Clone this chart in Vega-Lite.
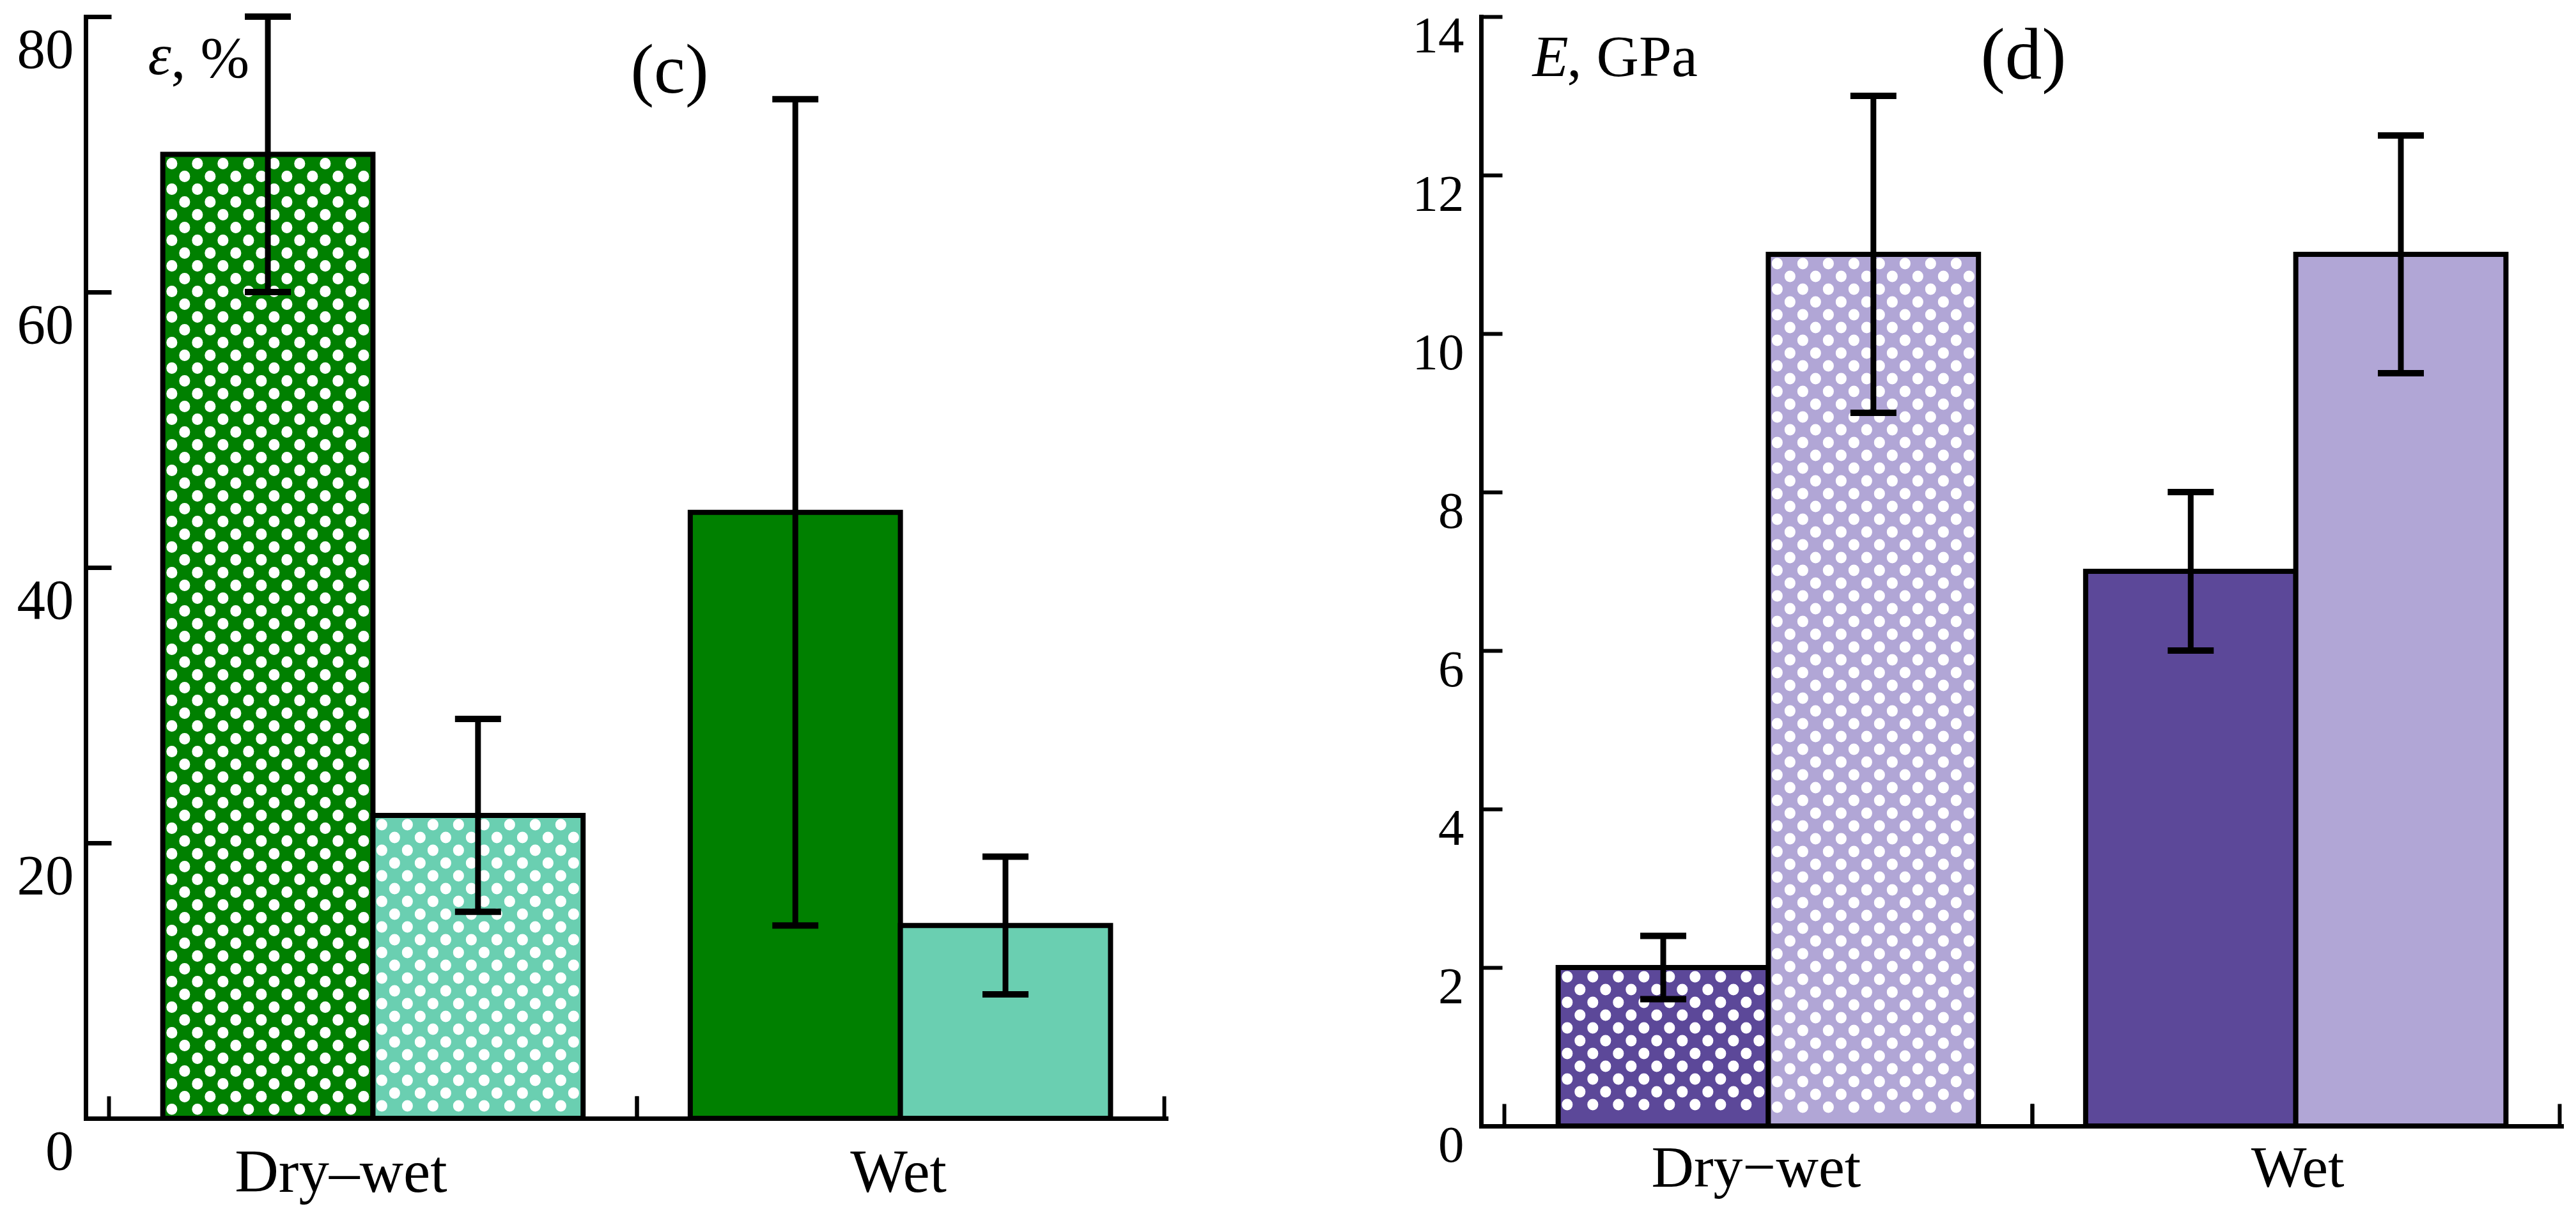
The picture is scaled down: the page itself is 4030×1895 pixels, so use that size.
{
  "$schema": "https://vega.github.io/schema/vega-lite/v6.json",
  "background": "white",
  "padding": {"left": 26, "top": 16, "right": 10, "bottom": 10},
  "bounds": "flush",
  "spacing": 493,
  "resolve": {"scale": {"fill": "independent"}},
  "datasets": {
    "strain": [
      {"id": "A", "cond": "Dry–wet", "grp": "1", "val": 70, "lo": 60, "hi": 80, "hatch": true},
      {"id": "B", "cond": "Dry–wet", "grp": "2", "val": 22, "lo": 15, "hi": 29, "hatch": true},
      {"id": "C", "cond": "Wet", "grp": "1", "val": 44, "lo": 14, "hi": 74, "hatch": false},
      {"id": "D", "cond": "Wet", "grp": "2", "val": 14, "lo": 9, "hi": 19, "hatch": false}
    ],
    "modulus": [
      {"id": "A", "cond": "Dry−wet", "grp": "1", "val": 2, "lo": 1.6, "hi": 2.4, "hatch": true},
      {"id": "B", "cond": "Dry−wet", "grp": "2", "val": 11, "lo": 9, "hi": 13, "hatch": true},
      {"id": "C", "cond": "Wet", "grp": "1", "val": 7, "lo": 6, "hi": 8, "hatch": false},
      {"id": "D", "cond": "Wet", "grp": "2", "val": 11, "lo": 9.5, "hi": 12.5, "hatch": false}
    ]
  },
  "hconcat": [
    {
      "width": 1690,
      "height": 1724,
      "data": {"name": "strain"},
      "encoding": {
        "x": {"field": "cond", "type": "nominal", "sort": null, "scale": {"paddingInner": 0, "paddingOuter": 0.024, "align": 0.93}, "axis": null},
        "xOffset": {"field": "grp", "type": "nominal", "scale": {"domain": ["1", "2"], "paddingInner": 0, "paddingOuter": 0.255}},
        "y": {"field": "val", "type": "quantitative", "scale": {"domain": [0, 80], "nice": false},
          "axis": {"orient": "left", "values": [0, 20, 40, 60, 80], "domainWidth": 7, "tickSize": -40, "tickWidth": 7, "labelFont": "Liberation Serif", "labelFontSize": 89, "labelPadding": 59, "labelBaseline": "top", "labelOffset": 9, "labelFlush": false, "labelOverlap": false, "title": "ε", "titleFont": "Liberation Serif", "titleFontStyle": "italic", "titleFontSize": 92, "titleAngle": 0, "titleAlign": "left", "titleBaseline": "alphabetic", "titleX": 97, "titleY": 89}}
      },
      "layer": [
        {
          "mark": {"type": "bar", "stroke": "black", "strokeWidth": 8},
          "encoding": {
            "x": {"field": "cond", "type": "nominal", "sort": null, "scale": {"paddingInner": 0, "paddingOuter": 0.024, "align": 0.93},
              "axis": {"orient": "bottom", "bandPosition": 0, "domain": true, "domainWidth": 7, "ticks": true, "tickSize": -35, "tickWidth": 6, "labelAngle": 0, "labelFont": "Liberation Serif", "labelFontSize": 95, "labelLimit": 0, "labelPadding": 74, "labelAlign": "center", "labelBaseline": "top", "labelOffset": {"condition": {"test": "datum.value === 'Dry–wet'", "value": -50}, "value": -3},
                "title": "(c)", "titleFont": "Liberation Serif", "titleFontSize": 110, "titleFontStyle": "normal", "titleAngle": 0, "titleAlign": "center", "titleBaseline": "alphabetic", "titleX": 913, "titleY": -1606}},
            "fill": {"field": "id", "type": "nominal", "scale": {"domain": ["A", "B", "C", "D"], "range": ["#008000", "#6ACFB1", "#008000", "#6ACFB1"]}, "legend": null}
          }
        },
        {"transform": [{"filter": "datum.hatch"}], "mark": {"type": "rule", "color": "white", "opacity": 1, "strokeWidth": 17, "strokeCap": "round", "strokeDash": [1, 39], "strokeDashOffset": 0, "yOffset": 14, "y2Offset": -14}, "encoding": {"xOffset": {"field": "grp", "type": "nominal", "scale": {"domain": ["1", "2"], "range": [-66.25, 590.75], "paddingInner": 0, "paddingOuter": 0}}, "y2": {"datum": 0}}},
        {"transform": [{"filter": "datum.hatch"}], "mark": {"type": "rule", "color": "white", "opacity": 1, "strokeWidth": 17, "strokeCap": "round", "strokeDash": [1, 39], "strokeDashOffset": 20, "yOffset": 14, "y2Offset": -14}, "encoding": {"xOffset": {"field": "grp", "type": "nominal", "scale": {"domain": ["1", "2"], "range": [-46.25, 610.75], "paddingInner": 0, "paddingOuter": 0}}, "y2": {"datum": 0}}},
        {"transform": [{"filter": "datum.hatch"}], "mark": {"type": "rule", "color": "white", "opacity": 1, "strokeWidth": 17, "strokeCap": "round", "strokeDash": [1, 39], "strokeDashOffset": 0, "yOffset": 14, "y2Offset": -14}, "encoding": {"xOffset": {"field": "grp", "type": "nominal", "scale": {"domain": ["1", "2"], "range": [-26.25, 630.75], "paddingInner": 0, "paddingOuter": 0}}, "y2": {"datum": 0}}},
        {"transform": [{"filter": "datum.hatch"}], "mark": {"type": "rule", "color": "white", "opacity": 1, "strokeWidth": 17, "strokeCap": "round", "strokeDash": [1, 39], "strokeDashOffset": 20, "yOffset": 14, "y2Offset": -14}, "encoding": {"xOffset": {"field": "grp", "type": "nominal", "scale": {"domain": ["1", "2"], "range": [-6.25, 650.75], "paddingInner": 0, "paddingOuter": 0}}, "y2": {"datum": 0}}},
        {"transform": [{"filter": "datum.hatch"}], "mark": {"type": "rule", "color": "white", "opacity": 1, "strokeWidth": 17, "strokeCap": "round", "strokeDash": [1, 39], "strokeDashOffset": 0, "yOffset": 14, "y2Offset": -14}, "encoding": {"xOffset": {"field": "grp", "type": "nominal", "scale": {"domain": ["1", "2"], "range": [13.75, 670.75], "paddingInner": 0, "paddingOuter": 0}}, "y2": {"datum": 0}}},
        {"transform": [{"filter": "datum.hatch"}], "mark": {"type": "rule", "color": "white", "opacity": 1, "strokeWidth": 17, "strokeCap": "round", "strokeDash": [1, 39], "strokeDashOffset": 20, "yOffset": 14, "y2Offset": -14}, "encoding": {"xOffset": {"field": "grp", "type": "nominal", "scale": {"domain": ["1", "2"], "range": [33.75, 690.75], "paddingInner": 0, "paddingOuter": 0}}, "y2": {"datum": 0}}},
        {"transform": [{"filter": "datum.hatch"}], "mark": {"type": "rule", "color": "white", "opacity": 1, "strokeWidth": 17, "strokeCap": "round", "strokeDash": [1, 39], "strokeDashOffset": 0, "yOffset": 14, "y2Offset": -14}, "encoding": {"xOffset": {"field": "grp", "type": "nominal", "scale": {"domain": ["1", "2"], "range": [53.75, 710.75], "paddingInner": 0, "paddingOuter": 0}}, "y2": {"datum": 0}}},
        {"transform": [{"filter": "datum.hatch"}], "mark": {"type": "rule", "color": "white", "opacity": 1, "strokeWidth": 17, "strokeCap": "round", "strokeDash": [1, 39], "strokeDashOffset": 20, "yOffset": 14, "y2Offset": -14}, "encoding": {"xOffset": {"field": "grp", "type": "nominal", "scale": {"domain": ["1", "2"], "range": [73.75, 730.75], "paddingInner": 0, "paddingOuter": 0}}, "y2": {"datum": 0}}},
        {"transform": [{"filter": "datum.hatch"}], "mark": {"type": "rule", "color": "white", "opacity": 1, "strokeWidth": 17, "strokeCap": "round", "strokeDash": [1, 39], "strokeDashOffset": 0, "yOffset": 14, "y2Offset": -14}, "encoding": {"xOffset": {"field": "grp", "type": "nominal", "scale": {"domain": ["1", "2"], "range": [93.75, 750.75], "paddingInner": 0, "paddingOuter": 0}}, "y2": {"datum": 0}}},
        {"transform": [{"filter": "datum.hatch"}], "mark": {"type": "rule", "color": "white", "opacity": 1, "strokeWidth": 17, "strokeCap": "round", "strokeDash": [1, 39], "strokeDashOffset": 20, "yOffset": 14, "y2Offset": -14}, "encoding": {"xOffset": {"field": "grp", "type": "nominal", "scale": {"domain": ["1", "2"], "range": [113.75, 770.75], "paddingInner": 0, "paddingOuter": 0}}, "y2": {"datum": 0}}},
        {"transform": [{"filter": "datum.hatch"}], "mark": {"type": "rule", "color": "white", "opacity": 1, "strokeWidth": 17, "strokeCap": "round", "strokeDash": [1, 39], "strokeDashOffset": 0, "yOffset": 14, "y2Offset": -14}, "encoding": {"xOffset": {"field": "grp", "type": "nominal", "scale": {"domain": ["1", "2"], "range": [133.75, 790.75], "paddingInner": 0, "paddingOuter": 0}}, "y2": {"datum": 0}}},
        {"transform": [{"filter": "datum.hatch"}], "mark": {"type": "rule", "color": "white", "opacity": 1, "strokeWidth": 17, "strokeCap": "round", "strokeDash": [1, 39], "strokeDashOffset": 20, "yOffset": 14, "y2Offset": -14}, "encoding": {"xOffset": {"field": "grp", "type": "nominal", "scale": {"domain": ["1", "2"], "range": [153.75, 810.75], "paddingInner": 0, "paddingOuter": 0}}, "y2": {"datum": 0}}},
        {"transform": [{"filter": "datum.hatch"}], "mark": {"type": "rule", "color": "white", "opacity": 1, "strokeWidth": 17, "strokeCap": "round", "strokeDash": [1, 39], "strokeDashOffset": 0, "yOffset": 14, "y2Offset": -14}, "encoding": {"xOffset": {"field": "grp", "type": "nominal", "scale": {"domain": ["1", "2"], "range": [173.75, 830.75], "paddingInner": 0, "paddingOuter": 0}}, "y2": {"datum": 0}}},
        {"transform": [{"filter": "datum.hatch"}], "mark": {"type": "rule", "color": "white", "opacity": 1, "strokeWidth": 17, "strokeCap": "round", "strokeDash": [1, 39], "strokeDashOffset": 20, "yOffset": 14, "y2Offset": -14}, "encoding": {"xOffset": {"field": "grp", "type": "nominal", "scale": {"domain": ["1", "2"], "range": [193.75, 850.75], "paddingInner": 0, "paddingOuter": 0}}, "y2": {"datum": 0}}},
        {"transform": [{"filter": "datum.hatch"}], "mark": {"type": "rule", "color": "white", "opacity": 1, "strokeWidth": 17, "strokeCap": "round", "strokeDash": [1, 39], "strokeDashOffset": 0, "yOffset": 14, "y2Offset": -14}, "encoding": {"xOffset": {"field": "grp", "type": "nominal", "scale": {"domain": ["1", "2"], "range": [213.75, 870.75], "paddingInner": 0, "paddingOuter": 0}}, "y2": {"datum": 0}}},
        {"transform": [{"filter": "datum.hatch"}], "mark": {"type": "rule", "color": "white", "opacity": 1, "strokeWidth": 17, "strokeCap": "round", "strokeDash": [1, 39], "strokeDashOffset": 20, "yOffset": 14, "y2Offset": -14}, "encoding": {"xOffset": {"field": "grp", "type": "nominal", "scale": {"domain": ["1", "2"], "range": [233.75, 890.75], "paddingInner": 0, "paddingOuter": 0}}, "y2": {"datum": 0}}},
        {
          "mark": {"type": "rule", "color": "black", "opacity": 1, "strokeWidth": 9},
          "encoding": {
            "x": {"field": "cond", "type": "nominal", "sort": null, "scale": {"paddingInner": 0, "paddingOuter": 0.024, "align": 0.93},
              "axis": {"orient": "bottom", "bandPosition": 1, "domain": false, "labels": false, "ticks": true, "tickSize": -35, "tickWidth": 6, "title": ", %", "titleFont": "Liberation Serif", "titleFontSize": 92, "titleFontStyle": "normal", "titleAngle": 0, "titleAlign": "left", "titleBaseline": "alphabetic", "titleX": 133, "titleY": -1630}},
            "y": {"field": "lo", "type": "quantitative"},
            "y2": {"field": "hi"}
          }
        },
        {"mark": {"type": "tick", "color": "black", "opacity": 1, "size": 72, "thickness": 10}, "encoding": {"y": {"field": "hi", "type": "quantitative"}}},
        {"mark": {"type": "tick", "color": "black", "opacity": 1, "size": 72, "thickness": 10}, "encoding": {"y": {"field": "lo", "type": "quantitative"}}}
      ],
      "resolve": {"axis": {"x": "independent"}, "scale": {"xOffset": "independent"}}
    },
    {
      "width": 1690,
      "height": 1736,
      "data": {"name": "modulus"},
      "encoding": {
        "x": {"field": "cond", "type": "nominal", "sort": null, "scale": {"paddingInner": 0, "paddingOuter": 0.024, "align": 0.93}, "axis": null},
        "xOffset": {"field": "grp", "type": "nominal", "scale": {"domain": ["1", "2"], "paddingInner": 0, "paddingOuter": 0.255}},
        "y": {"field": "val", "type": "quantitative", "scale": {"domain": [0, 14], "nice": false},
          "axis": {"orient": "left", "values": [0, 2, 4, 6, 8, 10, 12, 14], "domainWidth": 7, "tickSize": -33, "tickWidth": 6, "labelFont": "Liberation Serif", "labelFontSize": 81, "labelPadding": 60, "labelBaseline": "top", "labelOffset": -9, "labelFlush": false, "labelOverlap": false, "title": "E", "titleFont": "Liberation Serif", "titleFontStyle": "italic", "titleFontSize": 92, "titleAngle": 0, "titleAlign": "left", "titleBaseline": "alphabetic", "titleX": 80, "titleY": 92}}
      },
      "layer": [
        {
          "mark": {"type": "bar", "stroke": "black", "strokeWidth": 8},
          "encoding": {
            "x": {"field": "cond", "type": "nominal", "sort": null, "scale": {"paddingInner": 0, "paddingOuter": 0.024, "align": 0.93},
              "axis": {"orient": "bottom", "bandPosition": 0, "domain": true, "domainWidth": 7, "ticks": true, "tickSize": -35, "tickWidth": 6, "labelAngle": 0, "labelFont": "Liberation Serif", "labelFontSize": 92, "labelLimit": 0, "labelPadding": 56, "labelAlign": "center", "labelBaseline": "top", "labelOffset": {"condition": {"test": "datum.value === 'Dry−wet'", "value": -19}, "value": 3},
                "title": "(d)", "titleFont": "Liberation Serif", "titleFontSize": 115, "titleFontStyle": "normal", "titleAngle": 0, "titleAlign": "center", "titleBaseline": "alphabetic", "titleX": 848, "titleY": -1640}},
            "fill": {"field": "id", "type": "nominal", "scale": {"domain": ["A", "B", "C", "D"], "range": ["#5C4899", "#B1A6D6", "#5C4899", "#B1A6D6"]}, "legend": null}
          }
        },
        {"transform": [{"filter": "datum.hatch"}], "mark": {"type": "rule", "color": "white", "opacity": 1, "strokeWidth": 17, "strokeCap": "round", "strokeDash": [1, 39], "strokeDashOffset": 0, "yOffset": 14, "y2Offset": -14}, "encoding": {"xOffset": {"field": "grp", "type": "nominal", "scale": {"domain": ["1", "2"], "range": [-66.25, 590.75], "paddingInner": 0, "paddingOuter": 0}}, "y2": {"datum": 0}}},
        {"transform": [{"filter": "datum.hatch"}], "mark": {"type": "rule", "color": "white", "opacity": 1, "strokeWidth": 17, "strokeCap": "round", "strokeDash": [1, 39], "strokeDashOffset": 20, "yOffset": 14, "y2Offset": -14}, "encoding": {"xOffset": {"field": "grp", "type": "nominal", "scale": {"domain": ["1", "2"], "range": [-46.25, 610.75], "paddingInner": 0, "paddingOuter": 0}}, "y2": {"datum": 0}}},
        {"transform": [{"filter": "datum.hatch"}], "mark": {"type": "rule", "color": "white", "opacity": 1, "strokeWidth": 17, "strokeCap": "round", "strokeDash": [1, 39], "strokeDashOffset": 0, "yOffset": 14, "y2Offset": -14}, "encoding": {"xOffset": {"field": "grp", "type": "nominal", "scale": {"domain": ["1", "2"], "range": [-26.25, 630.75], "paddingInner": 0, "paddingOuter": 0}}, "y2": {"datum": 0}}},
        {"transform": [{"filter": "datum.hatch"}], "mark": {"type": "rule", "color": "white", "opacity": 1, "strokeWidth": 17, "strokeCap": "round", "strokeDash": [1, 39], "strokeDashOffset": 20, "yOffset": 14, "y2Offset": -14}, "encoding": {"xOffset": {"field": "grp", "type": "nominal", "scale": {"domain": ["1", "2"], "range": [-6.25, 650.75], "paddingInner": 0, "paddingOuter": 0}}, "y2": {"datum": 0}}},
        {"transform": [{"filter": "datum.hatch"}], "mark": {"type": "rule", "color": "white", "opacity": 1, "strokeWidth": 17, "strokeCap": "round", "strokeDash": [1, 39], "strokeDashOffset": 0, "yOffset": 14, "y2Offset": -14}, "encoding": {"xOffset": {"field": "grp", "type": "nominal", "scale": {"domain": ["1", "2"], "range": [13.75, 670.75], "paddingInner": 0, "paddingOuter": 0}}, "y2": {"datum": 0}}},
        {"transform": [{"filter": "datum.hatch"}], "mark": {"type": "rule", "color": "white", "opacity": 1, "strokeWidth": 17, "strokeCap": "round", "strokeDash": [1, 39], "strokeDashOffset": 20, "yOffset": 14, "y2Offset": -14}, "encoding": {"xOffset": {"field": "grp", "type": "nominal", "scale": {"domain": ["1", "2"], "range": [33.75, 690.75], "paddingInner": 0, "paddingOuter": 0}}, "y2": {"datum": 0}}},
        {"transform": [{"filter": "datum.hatch"}], "mark": {"type": "rule", "color": "white", "opacity": 1, "strokeWidth": 17, "strokeCap": "round", "strokeDash": [1, 39], "strokeDashOffset": 0, "yOffset": 14, "y2Offset": -14}, "encoding": {"xOffset": {"field": "grp", "type": "nominal", "scale": {"domain": ["1", "2"], "range": [53.75, 710.75], "paddingInner": 0, "paddingOuter": 0}}, "y2": {"datum": 0}}},
        {"transform": [{"filter": "datum.hatch"}], "mark": {"type": "rule", "color": "white", "opacity": 1, "strokeWidth": 17, "strokeCap": "round", "strokeDash": [1, 39], "strokeDashOffset": 20, "yOffset": 14, "y2Offset": -14}, "encoding": {"xOffset": {"field": "grp", "type": "nominal", "scale": {"domain": ["1", "2"], "range": [73.75, 730.75], "paddingInner": 0, "paddingOuter": 0}}, "y2": {"datum": 0}}},
        {"transform": [{"filter": "datum.hatch"}], "mark": {"type": "rule", "color": "white", "opacity": 1, "strokeWidth": 17, "strokeCap": "round", "strokeDash": [1, 39], "strokeDashOffset": 0, "yOffset": 14, "y2Offset": -14}, "encoding": {"xOffset": {"field": "grp", "type": "nominal", "scale": {"domain": ["1", "2"], "range": [93.75, 750.75], "paddingInner": 0, "paddingOuter": 0}}, "y2": {"datum": 0}}},
        {"transform": [{"filter": "datum.hatch"}], "mark": {"type": "rule", "color": "white", "opacity": 1, "strokeWidth": 17, "strokeCap": "round", "strokeDash": [1, 39], "strokeDashOffset": 20, "yOffset": 14, "y2Offset": -14}, "encoding": {"xOffset": {"field": "grp", "type": "nominal", "scale": {"domain": ["1", "2"], "range": [113.75, 770.75], "paddingInner": 0, "paddingOuter": 0}}, "y2": {"datum": 0}}},
        {"transform": [{"filter": "datum.hatch"}], "mark": {"type": "rule", "color": "white", "opacity": 1, "strokeWidth": 17, "strokeCap": "round", "strokeDash": [1, 39], "strokeDashOffset": 0, "yOffset": 14, "y2Offset": -14}, "encoding": {"xOffset": {"field": "grp", "type": "nominal", "scale": {"domain": ["1", "2"], "range": [133.75, 790.75], "paddingInner": 0, "paddingOuter": 0}}, "y2": {"datum": 0}}},
        {"transform": [{"filter": "datum.hatch"}], "mark": {"type": "rule", "color": "white", "opacity": 1, "strokeWidth": 17, "strokeCap": "round", "strokeDash": [1, 39], "strokeDashOffset": 20, "yOffset": 14, "y2Offset": -14}, "encoding": {"xOffset": {"field": "grp", "type": "nominal", "scale": {"domain": ["1", "2"], "range": [153.75, 810.75], "paddingInner": 0, "paddingOuter": 0}}, "y2": {"datum": 0}}},
        {"transform": [{"filter": "datum.hatch"}], "mark": {"type": "rule", "color": "white", "opacity": 1, "strokeWidth": 17, "strokeCap": "round", "strokeDash": [1, 39], "strokeDashOffset": 0, "yOffset": 14, "y2Offset": -14}, "encoding": {"xOffset": {"field": "grp", "type": "nominal", "scale": {"domain": ["1", "2"], "range": [173.75, 830.75], "paddingInner": 0, "paddingOuter": 0}}, "y2": {"datum": 0}}},
        {"transform": [{"filter": "datum.hatch"}], "mark": {"type": "rule", "color": "white", "opacity": 1, "strokeWidth": 17, "strokeCap": "round", "strokeDash": [1, 39], "strokeDashOffset": 20, "yOffset": 14, "y2Offset": -14}, "encoding": {"xOffset": {"field": "grp", "type": "nominal", "scale": {"domain": ["1", "2"], "range": [193.75, 850.75], "paddingInner": 0, "paddingOuter": 0}}, "y2": {"datum": 0}}},
        {"transform": [{"filter": "datum.hatch"}], "mark": {"type": "rule", "color": "white", "opacity": 1, "strokeWidth": 17, "strokeCap": "round", "strokeDash": [1, 39], "strokeDashOffset": 0, "yOffset": 14, "y2Offset": -14}, "encoding": {"xOffset": {"field": "grp", "type": "nominal", "scale": {"domain": ["1", "2"], "range": [213.75, 870.75], "paddingInner": 0, "paddingOuter": 0}}, "y2": {"datum": 0}}},
        {"transform": [{"filter": "datum.hatch"}], "mark": {"type": "rule", "color": "white", "opacity": 1, "strokeWidth": 17, "strokeCap": "round", "strokeDash": [1, 39], "strokeDashOffset": 20, "yOffset": 14, "y2Offset": -14}, "encoding": {"xOffset": {"field": "grp", "type": "nominal", "scale": {"domain": ["1", "2"], "range": [233.75, 890.75], "paddingInner": 0, "paddingOuter": 0}}, "y2": {"datum": 0}}},
        {
          "mark": {"type": "rule", "color": "black", "opacity": 1, "strokeWidth": 9},
          "encoding": {
            "x": {"field": "cond", "type": "nominal", "sort": null, "scale": {"paddingInner": 0, "paddingOuter": 0.024, "align": 0.93},
              "axis": {"orient": "bottom", "bandPosition": 1, "domain": false, "labels": false, "ticks": true, "tickSize": -35, "tickWidth": 6, "title": ", GPa", "titleFont": "Liberation Serif", "titleFontSize": 92, "titleFontStyle": "normal", "titleAngle": 0, "titleAlign": "left", "titleBaseline": "alphabetic", "titleX": 134, "titleY": -1644}},
            "y": {"field": "lo", "type": "quantitative"},
            "y2": {"field": "hi"}
          }
        },
        {"mark": {"type": "tick", "color": "black", "opacity": 1, "size": 72, "thickness": 10}, "encoding": {"y": {"field": "hi", "type": "quantitative"}}},
        {"mark": {"type": "tick", "color": "black", "opacity": 1, "size": 72, "thickness": 10}, "encoding": {"y": {"field": "lo", "type": "quantitative"}}}
      ],
      "resolve": {"axis": {"x": "independent"}, "scale": {"xOffset": "independent"}}
    }
  ],
  "config": {
    "view": {"stroke": null},
    "font": "Liberation Serif",
    "axis": {"domainColor": "black", "tickColor": "black", "labelColor": "black", "titleColor": "black", "grid": false, "labelFont": "Liberation Serif", "titleFont": "Liberation Serif", "titleFontWeight": "normal", "domainCap": "square", "zindex": 1}
  }
}
